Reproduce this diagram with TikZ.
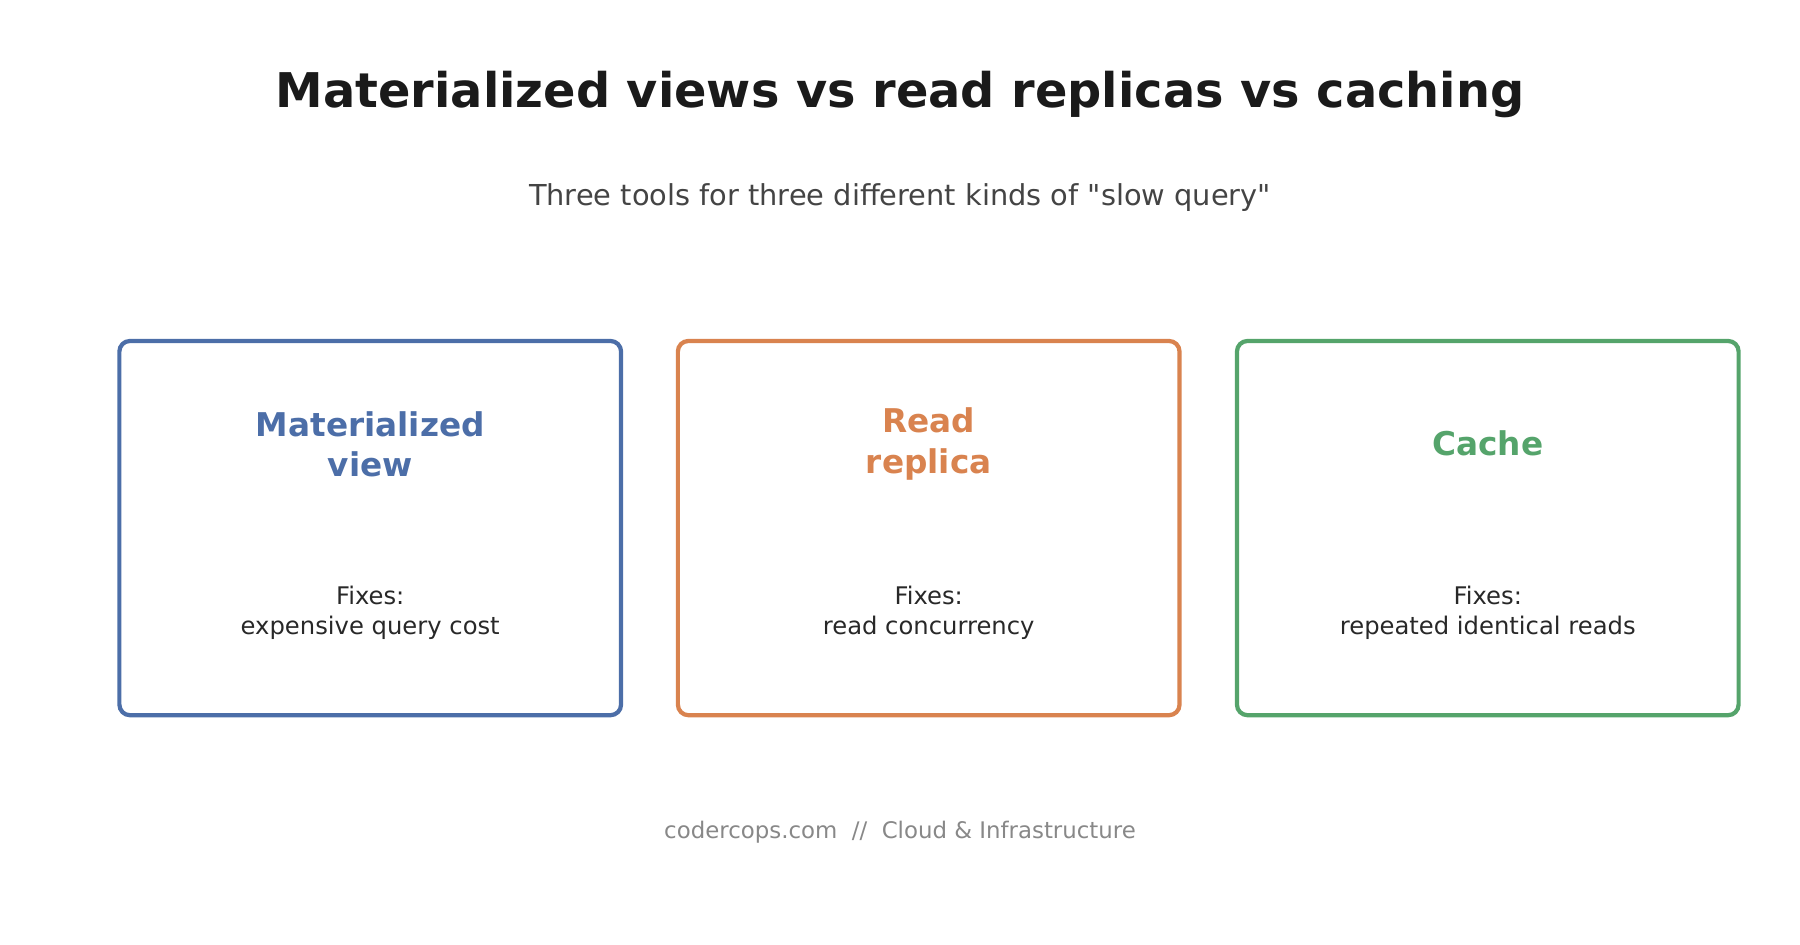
\documentclass[tikz,border=0pt]{standalone}
\usepackage{fontspec}
\setmainfont{DejaVu Sans}[Ligatures=TeXOff]
\usetikzlibrary{positioning}
\definecolor{myblue}{RGB}{76,110,168}
\definecolor{myorange}{RGB}{217,131,79}
\definecolor{mygreen}{RGB}{85,164,107}
\definecolor{mytitle}{RGB}{26,26,26}
\definecolor{mysub}{RGB}{68,68,68}
\definecolor{mybody}{RGB}{40,40,40}
\definecolor{myfoot}{RGB}{136,136,136}
\begin{document}
\begin{tikzpicture}[
  x=0.01148cm, y=-0.01148cm,
  mybox/.style={
    draw=#1,
    line width=1.2pt,
    rounded corners=3pt,
    minimum width=437*0.01148cm,
    minimum height=326*0.01148cm
    },
  myhead/.style={
    text=#1,
    font=\fontsize{9.3}{11.6}\selectfont\bfseries,
    align=center
    },
  mybody/.style={
    text=mybody,
    font=\fontsize{6.9}{8.4}\selectfont,
    align=center
    }
]
\useasboundingbox (0,0) rectangle (1568,823);

\node[text=mytitle, font=\fontsize{13.6}{16}\selectfont\bfseries] (title) at (784,82) {Materialized views vs read replicas vs caching};
\node[text=mysub, font=\fontsize{8.2}{9.5}\selectfont] (subtitle) at (784,172) {Three tools for three different kinds of "slow query"};

\node[mybox=myblue] (mview) at (322.5,460) {};
\node[mybox=myorange] (replica) at (809,460) {};
\node[mybox=mygreen] (cache) at (1296,460) {};

\node[myhead=myblue] (mviewhead) at (322.5,387) {Materialized\\view};
\node[myhead=myorange] (replicahead) at (809,387) {Read\\replica};
\node[myhead=mygreen] (cachehead) at (1296,386) {Cache};

\node[mybody] (mviewbody) at (322.5,534) {Fixes:\\expensive query cost};
\node[mybody] (replicabody) at (809,534) {Fixes:\\read concurrency};
\node[mybody] (cachebody) at (1296,534) {Fixes:\\repeated identical reads};

\node[text=myfoot, font=\fontsize{6.5}{7.6}\selectfont] (footer) at (784,725) {codercops.com \ //\ \ Cloud \& Infrastructure};

\end{tikzpicture}
\end{document}
